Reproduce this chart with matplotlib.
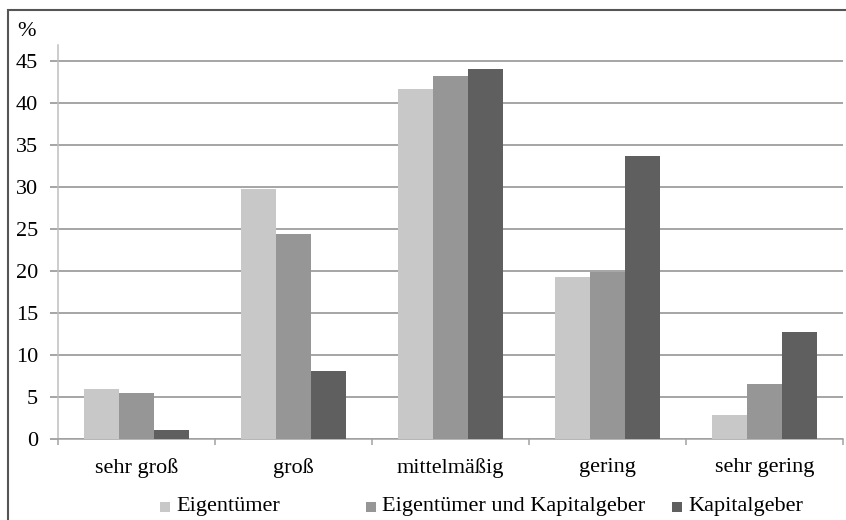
import matplotlib
matplotlib.use("Agg")
import matplotlib.pyplot as plt
import numpy as np
from matplotlib.patches import Rectangle

plt.rcParams['font.family'] = ['Liberation Serif', 'DejaVu Serif']

categories = ["sehr groß", "groß", "mittelmäßig", "gering", "sehr gering"]
series_names = ["Eigentümer", "Eigentümer und Kapitalgeber", "Kapitalgeber"]
eigentuemer = [6.0, 29.8, 41.7, 19.3, 2.9]
eig_und_kap = [5.5, 24.4, 43.2, 19.9, 6.5]
kapitalgeber = [1.1, 8.1, 44.1, 33.7, 12.7]
yticks = [0, 5, 10, 15, 20, 25, 30, 35, 40, 45]

colors = ["#c8c8c8", "#969696", "#5f5f5f"]
values = [eigentuemer, eig_und_kap, kapitalgeber]

W, H = 846, 520
FS = 16
PX = 72 / 100  # points per pixel at 100 dpi
fig = plt.figure(figsize=(W / 100, H / 100), dpi=100)
ax = fig.add_axes([58 / W, 1 - 439 / H, (843 - 58) / W, (439 - 45) / H])

x = np.arange(len(categories)) + 0.5
bw = 0.223
for i, (vals, col) in enumerate(zip(values, colors)):
    ax.bar(x + (i - 1) * bw, vals, width=bw, color=col, edgecolor="none", zorder=3)

ax.set_xlim(0, len(categories))
ax.set_ylim(0, 46.9)
ax.set_yticks(yticks)
ax.set_yticklabels([str(v) for v in yticks], fontsize=FS)
ax.yaxis.grid(True, color="#8a8a8a", linewidth=1.5 * PX, zorder=0)
ax.tick_params(axis="y", length=8 * PX, color="#8a8a8a", width=1.5 * PX, pad=12 * PX)

ax.set_xticks(np.arange(len(categories) + 1))
ax.set_xticklabels([])
ax.set_xticks(x, minor=True)
ax.set_xticklabels(categories, minor=True, fontsize=FS)
ax.tick_params(axis="x", which="major", length=6 * PX, color="#a0a0a0", width=1.5 * PX,
               direction="out")
ax.tick_params(axis="x", which="minor", length=0, pad=14)

for s in ["top", "right"]:
    ax.spines[s].set_visible(False)
ax.spines["left"].set_color("#bdbdbd")
ax.spines["left"].set_linewidth(1.5 * PX)
ax.spines["bottom"].set_color("#a0a0a0")
ax.spines["bottom"].set_linewidth(1.5 * PX)

fig.text(26 / W, 1 - 31 / H, "%", fontsize=FS, ha="center", va="center")

# legend entries: marker square then label
legend_x = [165, 371, 677]
ly = 1 - 507 / H
sq = 10
for name, col, lx in zip(series_names, colors, legend_x):
    fig.patches.append(Rectangle(((lx - sq / 2) / W, ly - (sq / 2) / H), sq / W, sq / H,
                                 transform=fig.transFigure, facecolor=col, edgecolor="none"))
    fig.text((lx + 11) / W, ly, name, fontsize=FS, ha="left", va="center")

# outer frame
fig.patches.append(Rectangle((8 / W, -0.05), 1.05, 1 - 10 / H + 0.05,
                             transform=fig.transFigure, facecolor="none",
                             edgecolor="#555555", linewidth=1.5))

fig.savefig("out.png", dpi=100, facecolor="white")
